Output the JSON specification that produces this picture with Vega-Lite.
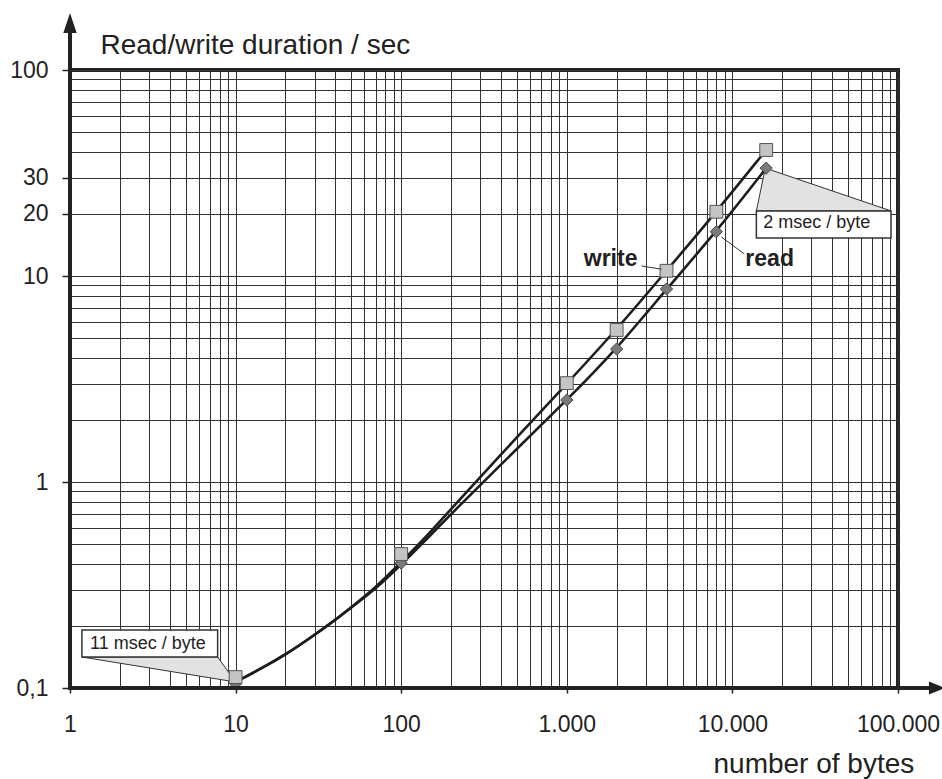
{
  "$schema": "https://vega.github.io/schema/vega-lite/v6.json",
  "width": 828,
  "height": 618,
  "autosize": {"type": "none"},
  "padding": {"left": 70, "top": 70, "right": 44, "bottom": 91},
  "config": {
    "font": "Liberation Sans",
    "view": {"stroke": "#222", "strokeWidth": 4},
    "axis": {"gridColor": "#333", "gridWidth": 1, "gridOpacity": 1}
  },
  "datasets": {
    "curves": [
      {"g": "write", "x": 10, "y": 0.107},
      {"g": "write", "x": 15, "y": 0.127},
      {"g": "write", "x": 20, "y": 0.145},
      {"g": "write", "x": 30, "y": 0.181},
      {"g": "write", "x": 40, "y": 0.214},
      {"g": "write", "x": 50, "y": 0.247},
      {"g": "write", "x": 70, "y": 0.307},
      {"g": "write", "x": 100, "y": 0.408},
      {"g": "write", "x": 150, "y": 0.57},
      {"g": "write", "x": 200, "y": 0.74},
      {"g": "write", "x": 500, "y": 1.65},
      {"g": "write", "x": 1000, "y": 3.0},
      {"g": "write", "x": 2000, "y": 5.5},
      {"g": "write", "x": 4000, "y": 10.6},
      {"g": "write", "x": 8000, "y": 20.5},
      {"g": "write", "x": 16000, "y": 40.9},
      {"g": "read", "x": 10, "y": 0.107},
      {"g": "read", "x": 15, "y": 0.127},
      {"g": "read", "x": 20, "y": 0.145},
      {"g": "read", "x": 30, "y": 0.181},
      {"g": "read", "x": 40, "y": 0.214},
      {"g": "read", "x": 50, "y": 0.246},
      {"g": "read", "x": 70, "y": 0.302},
      {"g": "read", "x": 100, "y": 0.398},
      {"g": "read", "x": 150, "y": 0.55},
      {"g": "read", "x": 200, "y": 0.7},
      {"g": "read", "x": 500, "y": 1.45},
      {"g": "read", "x": 1000, "y": 2.5},
      {"g": "read", "x": 2000, "y": 4.42},
      {"g": "read", "x": 4000, "y": 8.65},
      {"g": "read", "x": 8000, "y": 16.4},
      {"g": "read", "x": 16000, "y": 33.4}
    ],
    "writePts": [
      {"x": 10, "y": 0.113},
      {"x": 100, "y": 0.447},
      {"x": 1000, "y": 3.02},
      {"x": 2000, "y": 5.47},
      {"x": 4000, "y": 10.6},
      {"x": 8000, "y": 20.5},
      {"x": 16000, "y": 40.9}
    ],
    "readPts": [
      {"x": 10, "y": 0.105},
      {"x": 100, "y": 0.404},
      {"x": 1000, "y": 2.5},
      {"x": 2000, "y": 4.42},
      {"x": 4000, "y": 8.65},
      {"x": 8000, "y": 16.4},
      {"x": 16000, "y": 33.4}
    ],
    "pointers": [
      {"g": "a", "x": 1.18, "y": 0.1414, "y2": 0.1414},
      {"g": "a", "x": 7.79, "y": 0.1414, "y2": 0.1105},
      {"g": "a", "x": 10, "y": 0.107, "y2": 0.107},
      {"g": "b", "x": 13954, "y": 20.7, "y2": 20.7},
      {"g": "b", "x": 15800, "y": 33.4, "y2": 20.7},
      {"g": "b", "x": 90750, "y": 20.7, "y2": 20.7}
    ],
    "boxes": [
      {"x": 1.18, "x2": 7.79, "y": 0.1414, "y2": 0.191},
      {"x": 13954, "x2": 90750, "y": 15.3, "y2": 20.7}
    ],
    "boxText": [
      {"x": 1.32, "y": 0.1644, "label": "11 msec / byte"},
      {"x": 15370, "y": 18.0, "label": "2 msec / byte"}
    ],
    "seriesLabels": [
      {"x": 1266, "y": 11.18, "label": "write"},
      {"x": 11977, "y": 11.18, "label": "read"}
    ],
    "leaders": [
      {"x": 2830, "y": 11.18, "x2": 3735, "y2": 10.79},
      {"x": 8590, "y": 15.46, "x2": 11812, "y2": 12.79}
    ],
    "axisLines": [
      {"x": 1, "y": 0.1, "x2": 1, "y2": 160},
      {"x": 1, "y": 0.1, "x2": 165000, "y2": 0.1}
    ],
    "arrows": [
      {"g": "up", "x": 1, "y": 169},
      {"g": "right", "x": 171800, "y": 0.1}
    ]
  },
  "encoding": {
    "x": {
      "field": "x",
      "type": "quantitative",
      "scale": {"type": "log", "domain": [1, 100000], "nice": false, "zero": false},
      "axis": {
        "values": [1,2,3,4,5,6,7,8,9,10,20,30,40,50,60,70,80,90,100,200,300,400,500,600,700,800,900,1000,2000,3000,4000,5000,6000,7000,8000,9000,10000,20000,30000,40000,50000,60000,70000,80000,90000,100000],
        "grid": true,
        "domain": false,
        "tickSize": 5,
        "tickWidth": 1.5,
        "tickColor": "#222",
        "tickOpacity": {"condition": {"test": "indexof([1,10,100,1000,10000,100000], datum.value) >= 0", "value": 1}, "value": 0},
        "labelExpr": "indexof([1,10,100,1000,10000,100000], datum.value) >= 0 ? replace(format(datum.value, ','), ',', '.') : ''",
        "labelFontSize": 23,
        "labelPadding": 20,
        "labelFlush": false,
        "labelOverlap": false,
        "labelBound": false,
        "labelColor": "#222",
        "title": "number of bytes",
        "titleX": 643,
        "titleY": 84,
        "titleAlign": "left",
        "titleBaseline": "alphabetic",
        "titleFontSize": 28,
        "titleFontWeight": "normal",
        "titleColor": "#222"
      }
    },
    "y": {
      "field": "y",
      "type": "quantitative",
      "scale": {"type": "log", "domain": [0.1, 100], "nice": false, "zero": false},
      "axis": {
        "values": [0.1,0.2,0.3,0.4,0.5,0.6,0.7,0.8,0.9,1,2,3,4,5,6,7,8,9,10,20,30,40,50,60,70,80,90,100],
        "grid": true,
        "domain": false,
        "tickSize": 8,
        "tickWidth": 1.5,
        "tickColor": "#222",
        "tickOpacity": {"condition": {"test": "indexof([0.1,1,10,20,30,100], datum.value) >= 0", "value": 1}, "value": 0},
        "labelExpr": "datum.value == 0.1 ? '0,1' : (indexof([1,10,20,30,100], datum.value) >= 0 ? format(datum.value, 'd') : '')",
        "labelFontSize": 23,
        "labelPadding": 14,
        "labelOverlap": false,
        "labelBound": false,
        "labelFlush": false,
        "labelColor": "#222",
        "title": "Read/write duration / sec",
        "titleAngle": 0,
        "titleX": 30,
        "titleY": -17,
        "titleAlign": "left",
        "titleBaseline": "alphabetic",
        "titleFontSize": 28,
        "titleFontWeight": "normal",
        "titleColor": "#222"
      }
    }
  },
  "layer": [
    {
      "data": {"name": "pointers"},
      "mark": {"type": "area", "fill": "#e2e2e2", "stroke": "#333", "strokeWidth": 1, "opacity": 1},
      "encoding": {"y2": {"field": "y2"}, "detail": {"field": "g"}}
    },
    {
      "data": {"name": "boxes"},
      "mark": {"type": "rect", "fill": "white", "stroke": "#333", "strokeWidth": 1.5},
      "encoding": {"x2": {"field": "x2"}, "y2": {"field": "y2"}}
    },
    {
      "data": {"name": "boxText"},
      "mark": {"type": "text", "align": "left", "baseline": "middle", "fontSize": 18, "color": "#222"},
      "encoding": {"text": {"field": "label"}}
    },
    {
      "data": {"name": "curves"},
      "mark": {"type": "line", "interpolate": "basis", "color": "#1e1e1e", "strokeWidth": 2.6},
      "encoding": {"detail": {"field": "g"}}
    },
    {
      "data": {"name": "readPts"},
      "mark": {"type": "point", "shape": "diamond", "size": 150, "filled": true, "fill": "#7a7a7a", "stroke": "#444", "strokeWidth": 1, "opacity": 1}
    },
    {
      "data": {"name": "writePts"},
      "mark": {"type": "point", "shape": "square", "size": 165, "filled": true, "fill": "#c4c4c4", "stroke": "#555", "strokeWidth": 1, "opacity": 1}
    },
    {
      "data": {"name": "leaders"},
      "mark": {"type": "rule", "color": "#333", "strokeWidth": 1},
      "encoding": {"x2": {"field": "x2"}, "y2": {"field": "y2"}}
    },
    {
      "data": {"name": "seriesLabels"},
      "mark": {"type": "text", "align": "left", "baseline": "alphabetic", "fontSize": 23, "fontWeight": "bold", "color": "#222"},
      "encoding": {"text": {"field": "label"}}
    },
    {
      "data": {"name": "axisLines"},
      "mark": {"type": "rule", "color": "#222", "strokeWidth": 4, "strokeCap": "square"},
      "encoding": {"x2": {"field": "x2"}, "y2": {"field": "y2"}}
    },
    {
      "data": {"name": "arrows"},
      "mark": {"type": "point", "filled": true, "size": 400, "color": "#222", "opacity": 1, "strokeWidth": 0},
      "encoding": {
        "shape": {"field": "g", "type": "nominal", "scale": {"domain": ["up", "right"], "range": ["M0,-1L0.67,1L-0.67,1Z", "M0.8,0L-0.8,0.65L-0.8,-0.65Z"]}, "legend": null}
      }
    }
  ]
}
